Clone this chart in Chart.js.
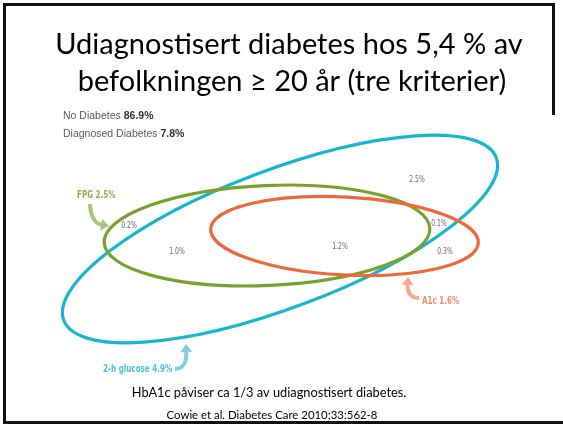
<!DOCTYPE html>
<html>
<head>
<meta charset="utf-8">
<script src="https://cdn.jsdelivr.net/npm/chart.js@4.4.0/dist/chart.umd.min.js"></script>
<style>
html, body { margin: 0; padding: 0; background: #fff; }
#venn { display: block; }
</style>
</head>
<body>
<canvas id="venn" width="563" height="424"></canvas>
<script>
// Udiagnostisert diabetes, tre kriterier (Cowie et al. 2010)
var titleLines = ['Udiagnostisert diabetes hos 5,4 % av', 'befolkningen \u2265 20 år (tre kriterier)'];
var noteLines = ['HbA1c påviser ca 1/3 av udiagnostisert diabetes.', 'Cowie et al. Diabetes Care 2010;33:562-8'];

var summaryNames = ['No Diabetes', 'Diagnosed Diabetes'];
var summaryValues = ['86.9%', '7.8%'];

// the three sets, in diagram units
var sets = ['2-h glucose', 'FPG', 'A1c'];
var setShare = ['4.9%', '2.5%', '1.6%'];
var setCx = [280, 267, 344.5];
var setCy = [239, 235.5, 236];
var setRx = [231, 163, 134];
var setRy = [69, 50, 39];
var setTilt = [-20.6, -2.5, 3];

// overlap regions
var regionLabels = ['0.2%', '1.0%', '1.2%', '2.5%', '0.1%', '0.3%'];
var regionX = [129, 177, 340, 417, 439, 445];
var regionY = [226, 252, 247, 180, 224, 252];

var setColors = ['#19b4cd', '#78a22f', '#eb6a3c'];
var tagColors = ['#4cc2d6', '#8cb04c', '#ef8d68'];
var arrowColors = ['#7fd0df', '#a9c47c', '#f4aa8c'];

// where each set's name sits and its arrow: [x, y] for label, [from, ctrl, tip] for arrow
var tagPos = [[103, 372], [77, 198], [422, 304]];
var arrowPath = [
    [[175, 369], [187, 369], [186, 344]],
    [[90, 204], [91, 223], [109, 226]],
    [[419, 298], [407, 298], [408, 277]]
];

var condensed = '"Liberation Sans Narrow", "DejaVu Sans Condensed", sans-serif';

function squeezeText(ctx, text, x, y, sx) {
    ctx.save();
    ctx.translate(x, y);
    ctx.scale(sx, 1);
    ctx.fillText(text, 0, 0);
    ctx.restore();
}

function arrow(ctx, p0, p1, p2, color) {
    var dx = p2[0] - p1[0], dy = p2[1] - p1[1];
    var len = Math.sqrt(dx * dx + dy * dy);
    var ux = dx / len, uy = dy / len;
    var head = 8, half = 6;
    var bx = p2[0] - ux * head, by = p2[1] - uy * head;
    ctx.save();
    ctx.strokeStyle = color;
    ctx.fillStyle = color;
    ctx.lineWidth = 4;
    ctx.lineCap = 'butt';
    ctx.beginPath();
    ctx.moveTo(p0[0], p0[1]);
    ctx.quadraticCurveTo(p1[0], p1[1], bx + ux, by + uy);
    ctx.stroke();
    ctx.beginPath();
    ctx.moveTo(p2[0], p2[1]);
    ctx.lineTo(bx - uy * half, by + ux * half);
    ctx.lineTo(bx + uy * half, by - ux * half);
    ctx.closePath();
    ctx.fill();
    ctx.restore();
}

var slidePlugin = {
    id: 'slide',
    beforeDraw: function (chart) {
        var ctx = chart.ctx;
        ctx.save();
        ctx.fillStyle = '#fff';
        ctx.fillRect(0, 0, chart.width, chart.height);
        // slide frame
        ctx.fillStyle = '#111';
        ctx.fillRect(3, 3, 552, 3);
        ctx.fillRect(3, 3, 3, 421);
        ctx.fillRect(3, 421, 560, 3);
        ctx.fillRect(552, 3, 3, 112);
        ctx.restore();
    },
    afterDatasetsDraw: function (chart) {
        var ctx = chart.ctx;
        var xs = chart.scales.x, ys = chart.scales.y;
        var px = function (v) { return xs.getPixelForValue(v); };
        var py = function (v) { return ys.getPixelForValue(v); };
        ctx.save();

        // title
        ctx.fillStyle = '#000';
        ctx.textAlign = 'center';
        ctx.textBaseline = 'alphabetic';
        ctx.font = '29px Lato, "Open Sans", sans-serif';
        ctx.fillText(titleLines[0], 289, 54);
        ctx.fillText(titleLines[1], 292, 91);

        // summary lines
        ctx.textAlign = 'left';
        for (var s = 0; s < summaryNames.length; s++) {
            var yy = s === 0 ? 119 : 137;
            ctx.font = '10.5px "Liberation Sans", Arial, sans-serif';
            ctx.fillStyle = '#5a5a5a';
            var t = summaryNames[s] + ' ';
            ctx.fillText(t, 63, yy);
            var w = ctx.measureText(t).width;
            ctx.font = 'bold 10.5px "Liberation Sans", Arial, sans-serif';
            ctx.fillStyle = '#333';
            ctx.fillText(summaryValues[s], 63 + w, yy);
        }

        // ellipses, centred on each set's point
        for (var i = 0; i < sets.length; i++) {
            var pt = chart.getDatasetMeta(i + 1).data[0];
            var rx = px(setCx[i] + setRx[i]) - px(setCx[i]);
            var ry = Math.abs(py(setCy[i] + setRy[i]) - py(setCy[i]));
            ctx.beginPath();
            ctx.ellipse(pt.x, pt.y, rx, ry, setTilt[i] * Math.PI / 180, 0, Math.PI * 2);
            ctx.strokeStyle = setColors[i];
            ctx.lineWidth = 3.2;
            ctx.stroke();
        }

        // region shares
        ctx.font = '8px ' + condensed;
        ctx.fillStyle = '#6b6b6b';
        ctx.textAlign = 'center';
        ctx.textBaseline = 'middle';
        chart.getDatasetMeta(0).data.forEach(function (el, k) {
            squeezeText(ctx, regionLabels[k], el.x, el.y, 0.85);
        });

        // set names with arrows
        ctx.textAlign = 'left';
        ctx.textBaseline = 'alphabetic';
        ctx.font = 'bold 10px ' + condensed;
        for (var j = 0; j < sets.length; j++) {
            var a = arrowPath[j];
            arrow(ctx, [px(a[0][0]), py(a[0][1])], [px(a[1][0]), py(a[1][1])], [px(a[2][0]), py(a[2][1])], arrowColors[j]);
            ctx.fillStyle = tagColors[j];
            squeezeText(ctx, sets[j] + ' ' + setShare[j], px(tagPos[j][0]), py(tagPos[j][1]), 0.8);
        }

        // notes
        ctx.fillStyle = '#000';
        ctx.textAlign = 'center';
        ctx.font = '12.8px Lato, "Open Sans", sans-serif';
        ctx.fillText(noteLines[0], 269, 397);
        ctx.font = '11.4px Lato, "Open Sans", sans-serif';
        ctx.fillText(noteLines[1], 272, 419);

        ctx.restore();
    }
};

var datasets = [{
    label: 'regions',
    data: regionX.map(function (x, i) { return { x: x, y: regionY[i] }; }),
    pointRadius: 0
}];
sets.forEach(function (name, i) {
    datasets.push({
        label: name,
        data: [{ x: setCx[i], y: setCy[i] }],
        pointRadius: 0
    });
});

new Chart(document.getElementById('venn'), {
    type: 'scatter',
    data: { datasets: datasets },
    options: {
        responsive: false,
        devicePixelRatio: 1,
        animation: false,
        layout: { padding: 0 },
        scales: {
            x: { type: 'linear', min: 0, max: 563, display: false },
            y: { type: 'linear', min: 0, max: 424, reverse: true, display: false }
        },
        plugins: {
            legend: { display: false },
            tooltip: { enabled: false }
        }
    },
    plugins: [slidePlugin]
});
</script>
</body>
</html>
